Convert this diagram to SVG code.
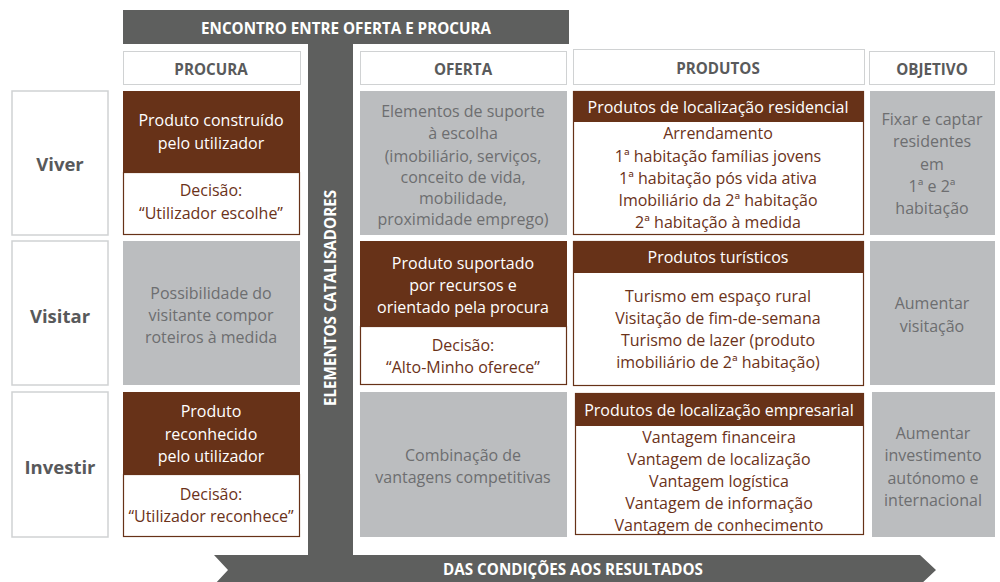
<svg xmlns="http://www.w3.org/2000/svg" width="1000" height="582" viewBox="0 0 1000 582">
<style>
text{font-family:"Open Sans","Liberation Sans",sans-serif;text-anchor:middle;dominant-baseline:central}
.bar{fill:#5e5f5e}
.bart{fill:#fff;font-weight:bold;font-size:15.2px}
.hdr{fill:#fff;stroke:#d0d2d3;stroke-width:1}
.hdrt{fill:#595a5b;font-weight:bold;font-size:15.2px}
.lbl{fill:#fff;stroke:#d0d2d3;stroke-width:1.5}
.lblt{fill:#58595b;font-weight:bold;font-size:18.5px}
.gray{fill:#bbbdbf}
.grayt{fill:#6d6e70;font-size:16px}
.brown{fill:#673218}
.brownt{fill:#fff;font-size:16px}
.wb{fill:#fff;stroke:#673218;stroke-width:1.2}
.wbt{fill:#6b3219;font-size:16px}
</style>
<g id="frame">
<rect class="bar" x="123" y="10" width="446" height="34"/>
<text class="bart" x="346" y="28">ENCONTRO ENTRE OFERTA E PROCURA</text>
<rect class="bar" x="308" y="44" width="45" height="514"/>
<polygon class="bar" points="214,555 920,555 936,570 920,585 214,585 228,570"/>
<text class="bart" x="573" y="569">DAS CONDIÇÕES AOS RESULTADOS</text>
<text class="bart" x="0" y="0" transform="translate(330,298) rotate(-90)">ELEMENTOS CATALISADORES</text>
</g>
<g id="headers">
<rect class="hdr" x="123.5" y="51.5" width="177" height="33"/>
<text class="hdrt" x="211" y="69">PROCURA</text>
<rect class="hdr" x="360.5" y="51.5" width="206" height="33"/>
<text class="hdrt" x="463" y="69">OFERTA</text>
<rect class="hdr" x="573.5" y="49.5" width="291" height="35"/>
<text class="hdrt" x="718" y="68">PRODUTOS</text>
<rect class="hdr" x="869.5" y="51.5" width="125" height="33"/>
<text class="hdrt" x="932" y="69">OBJETIVO</text>
</g>
<g id="row-viver">
<rect class="lbl" x="12" y="91" width="96" height="144"/>
<text class="lblt" x="60" y="163">Viver</text>
<g id="viver-procura">
<rect class="brown" x="123" y="91" width="177" height="81"/>
<text class="brownt" x="211" y="120">Produto construído</text>
<text class="brownt" x="211" y="143">pelo utilizador</text>
<rect class="wb" x="123.5" y="172.5" width="176" height="62"/>
<text class="wbt" x="211" y="190">Decisão:</text>
<text class="wbt" x="211" y="213">“Utilizador escolhe”</text>
</g>
<g id="viver-oferta">
<rect class="gray" x="360" y="91" width="207" height="144"/>
<text class="grayt" x="463" y="111">Elementos de suporte</text>
<text class="grayt" x="463" y="133">à escolha</text>
<text class="grayt" x="463" y="156">(imobiliário, serviços,</text>
<text class="grayt" x="463" y="177">conceito de vida,</text>
<text class="grayt" x="463" y="198">mobilidade,</text>
<text class="grayt" x="463" y="219">proximidade emprego)</text>
</g>
<g id="viver-produtos">
<rect class="wb" x="573.5" y="91.5" width="290" height="143"/>
<rect class="brown" x="573" y="91" width="291" height="31"/>
<text class="brownt" x="718" y="107">Produtos de localização residencial</text>
<text class="wbt" x="718" y="133">Arrendamento</text>
<text class="wbt" x="718" y="156">1ª habitação famílias jovens</text>
<text class="wbt" x="718" y="178">1ª habitação pós vida ativa</text>
<text class="wbt" x="718" y="200">Imobiliário da 2ª habitação</text>
<text class="wbt" x="718" y="222">2ª habitação à medida</text>
</g>
<g id="viver-objetivo">
<rect class="gray" x="870" y="91" width="125" height="144"/>
<text class="grayt" x="932" y="119">Fixar e captar</text>
<text class="grayt" x="932" y="141">residentes</text>
<text class="grayt" x="932" y="164">em</text>
<text class="grayt" x="932" y="186">1ª e 2ª</text>
<text class="grayt" x="932" y="208">habitação</text>
</g>
</g>
<g id="row-visitar">
<rect class="lbl" x="12" y="241" width="96" height="144"/>
<text class="lblt" x="60" y="315">Visitar</text>
<g id="visitar-procura">
<rect class="gray" x="123" y="241" width="177" height="144"/>
<text class="grayt" x="211" y="293">Possibilidade do</text>
<text class="grayt" x="211" y="315">visitante compor</text>
<text class="grayt" x="211" y="337">roteiros à medida</text>
</g>
<g id="visitar-oferta">
<rect class="brown" x="360" y="241" width="207" height="85"/>
<text class="brownt" x="463" y="263">Produto suportado</text>
<text class="brownt" x="463" y="285">por recursos e</text>
<text class="brownt" x="463" y="307">orientado pela procura</text>
<rect class="wb" x="360.5" y="326.5" width="206" height="58"/>
<text class="wbt" x="463" y="345">Decisão:</text>
<text class="wbt" x="463" y="367">“Alto-Minho oferece”</text>
</g>
<g id="visitar-produtos">
<rect class="wb" x="573.5" y="241.5" width="290" height="144"/>
<rect class="brown" x="573" y="241" width="291" height="32"/>
<text class="brownt" x="718" y="257">Produtos turísticos</text>
<text class="wbt" x="718" y="296">Turismo em espaço rural</text>
<text class="wbt" x="718" y="318">Visitação de fim-de-semana</text>
<text class="wbt" x="718" y="340">Turismo de lazer (produto</text>
<text class="wbt" x="718" y="362">imobiliário de 2ª habitação)</text>
</g>
<g id="visitar-objetivo">
<rect class="gray" x="870" y="241" width="125" height="144"/>
<text class="grayt" x="932" y="303">Aumentar</text>
<text class="grayt" x="932" y="326">visitação</text>
</g>
</g>
<g id="row-investir">
<rect class="lbl" x="12" y="392" width="96" height="145"/>
<text class="lblt" x="60" y="466">Investir</text>
<g id="investir-procura">
<rect class="brown" x="123" y="392" width="177" height="82"/>
<text class="brownt" x="211" y="411">Produto</text>
<text class="brownt" x="211" y="434">reconhecido</text>
<text class="brownt" x="211" y="456">pelo utilizador</text>
<rect class="wb" x="123.5" y="474.5" width="176" height="62"/>
<text class="wbt" x="211" y="494">Decisão:</text>
<text class="wbt" x="211" y="516">“Utilizador reconhece”</text>
</g>
<g id="investir-oferta">
<rect class="gray" x="360" y="392" width="207" height="145"/>
<text class="grayt" x="463" y="455">Combinação de</text>
<text class="grayt" x="463" y="477">vantagens competitivas</text>
</g>
<g id="investir-produtos">
<rect class="wb" x="575.5" y="393.5" width="288" height="141"/>
<rect class="brown" x="575" y="393" width="289" height="33"/>
<text class="brownt" x="719" y="410">Produtos de localização empresarial</text>
<text class="wbt" x="719" y="437">Vantagem financeira</text>
<text class="wbt" x="719" y="459">Vantagem de localização</text>
<text class="wbt" x="719" y="481">Vantagem logística</text>
<text class="wbt" x="719" y="503">Vantagem de informação</text>
<text class="wbt" x="719" y="525">Vantagem de conhecimento</text>
</g>
<g id="investir-objetivo">
<rect class="gray" x="872" y="392" width="123" height="145"/>
<text class="grayt" x="933" y="433">Aumentar</text>
<text class="grayt" x="933" y="455">investimento</text>
<text class="grayt" x="933" y="478">autónomo e</text>
<text class="grayt" x="933" y="500">internacional</text>
</g>
</g>
</svg>
